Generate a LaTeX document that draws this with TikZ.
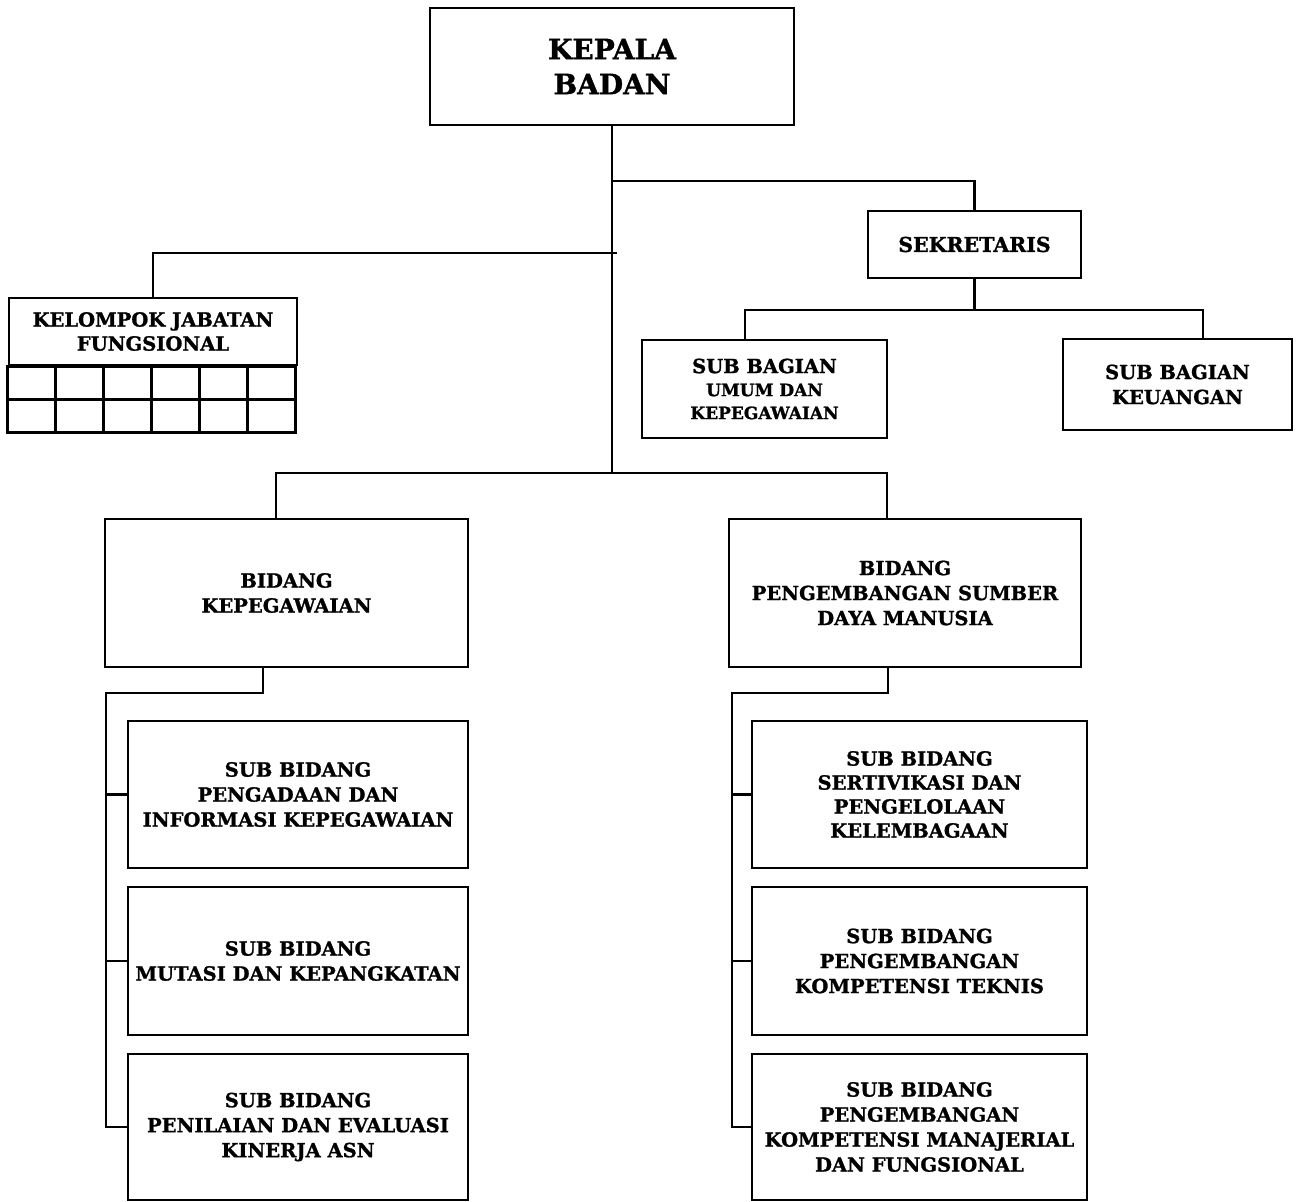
\documentclass[tikz,border=0pt]{standalone}
\usepackage{fontspec}
\setmainfont{DejaVu Serif}[BoldFont={DejaVu Serif Bold}, BoldFeatures={FakeBold=1.2}]
\usetikzlibrary{calc}
\begin{document}
\begin{tikzpicture}[x=1pt,y=-1pt,
  box/.style={draw, line width=2.8pt, rectangle, inner sep=0pt, align=center,
    font=\bfseries\fontsize{19.5}{25}\selectfont},
  conn/.style={line width=2.8pt}]
\useasboundingbox (0,0) rectangle (1299,1202);
% top
\node[box, minimum width=364, minimum height=117, font=\bfseries\fontsize{28}{35}\selectfont] (kb) at (612,66.5) {KEPALA\\BADAN};
\node[box, minimum width=213, minimum height=67, font=\bfseries\fontsize{20.5}{25}\selectfont] (sek) at (974.5,244.5) {SEKRETARIS};
\node[box, minimum width=245, minimum height=98, font=\bfseries\fontsize{19.5}{23}\selectfont] (sbu) at (764.5,389) {SUB BAGIAN\\{\fontsize{17}{23}\selectfont UMUM DAN}\\{\fontsize{17}{23}\selectfont KEPEGAWAIAN}};
\node[box, minimum width=229, minimum height=91] (sbk) at (1177.5,384.5) {SUB BAGIAN\\KEUANGAN};
% kelompok jabatan fungsional
\node[box, minimum width=288, minimum height=67, font=\bfseries\fontsize{19.5}{24}\selectfont] (kjf) at (153,331.5) {KELOMPOK JABATAN\\FUNGSIONAL};
\draw[conn] (kjf.south west) rectangle ++(288,66);
\draw[conn] ($(kjf.south west)+(0,33)$) -- ++(288,0);
\foreach \i in {1,...,5} {\draw[conn] ($(kjf.south west)+(48*\i,0)$) -- ++(0,66);}
% bidang
\node[box, minimum width=363, minimum height=148] (bk) at (286.5,593) {BIDANG\\KEPEGAWAIAN};
\node[box, minimum width=352, minimum height=148] (bp) at (905,593) {BIDANG\\PENGEMBANGAN SUMBER\\DAYA MANUSIA};
% sub bidang left
\node[box, minimum width=340, minimum height=147] (l1) at (298,794.5) {SUB BIDANG\\PENGADAAN DAN\\INFORMASI KEPEGAWAIAN};
\node[box, minimum width=340, minimum height=148] (l2) at (298,961) {SUB BIDANG\\MUTASI DAN KEPANGKATAN};
\node[box, minimum width=340, minimum height=146] (l3) at (298,1127) {SUB BIDANG\\PENILAIAN DAN EVALUASI\\KINERJA ASN};
% sub bidang right
\node[box, minimum width=335, minimum height=147, font=\bfseries\fontsize{19.5}{24}\selectfont] (r1) at (919.5,794.5) {SUB BIDANG\\SERTIVIKASI DAN\\PENGELOLAAN\\KELEMBAGAAN};
\node[box, minimum width=335, minimum height=148] (r2) at (919.5,961) {SUB BIDANG\\PENGEMBANGAN\\KOMPETENSI TEKNIS};
\node[box, minimum width=335, minimum height=146] (r3) at (919.5,1127) {SUB BIDANG\\PENGEMBANGAN\\KOMPETENSI MANAJERIAL\\DAN FUNGSIONAL};
% junction coordinates
\coordinate (tk) at (612,473);
\coordinate (ts) at (612,181);
\coordinate (tj) at (617,253);
\coordinate (ss) at (974.5,310);
\coordinate (lb) at (263,693);
\coordinate (lv) at (106,693);
\coordinate (rb) at (888,693);
\coordinate (rv) at (732,693);
% connectors
\draw[conn] (kb.south) -- (tk);
\draw[conn] (ts) -| (sek.north);
\draw[conn] (tj) -| (kjf.north);
\draw[conn] (sek.south) -- (ss);
\draw[conn] ([xshift=-19.5pt]sbu.north) |- (ss);
\draw[conn] ([xshift=25.5pt]sbk.north) |- (ss);
\draw[conn] ([xshift=-10.5pt]bk.north) |- (tk);
\draw[conn] ([xshift=-18pt]bp.north) |- (tk);
\draw[conn] ([xshift=-23.5pt]bk.south) -- (lb) -- (lv) |- (l3.west);
\draw[conn] (lv |- l1.west) -- (l1.west);
\draw[conn] (lv |- l2.west) -- (l2.west);
\draw[conn] ([xshift=-17pt]bp.south) -- (rb) -- (rv) |- (r3.west);
\draw[conn] (rv |- r1.west) -- (r1.west);
\draw[conn] (rv |- r2.west) -- (r2.west);
\end{tikzpicture}
\end{document}
